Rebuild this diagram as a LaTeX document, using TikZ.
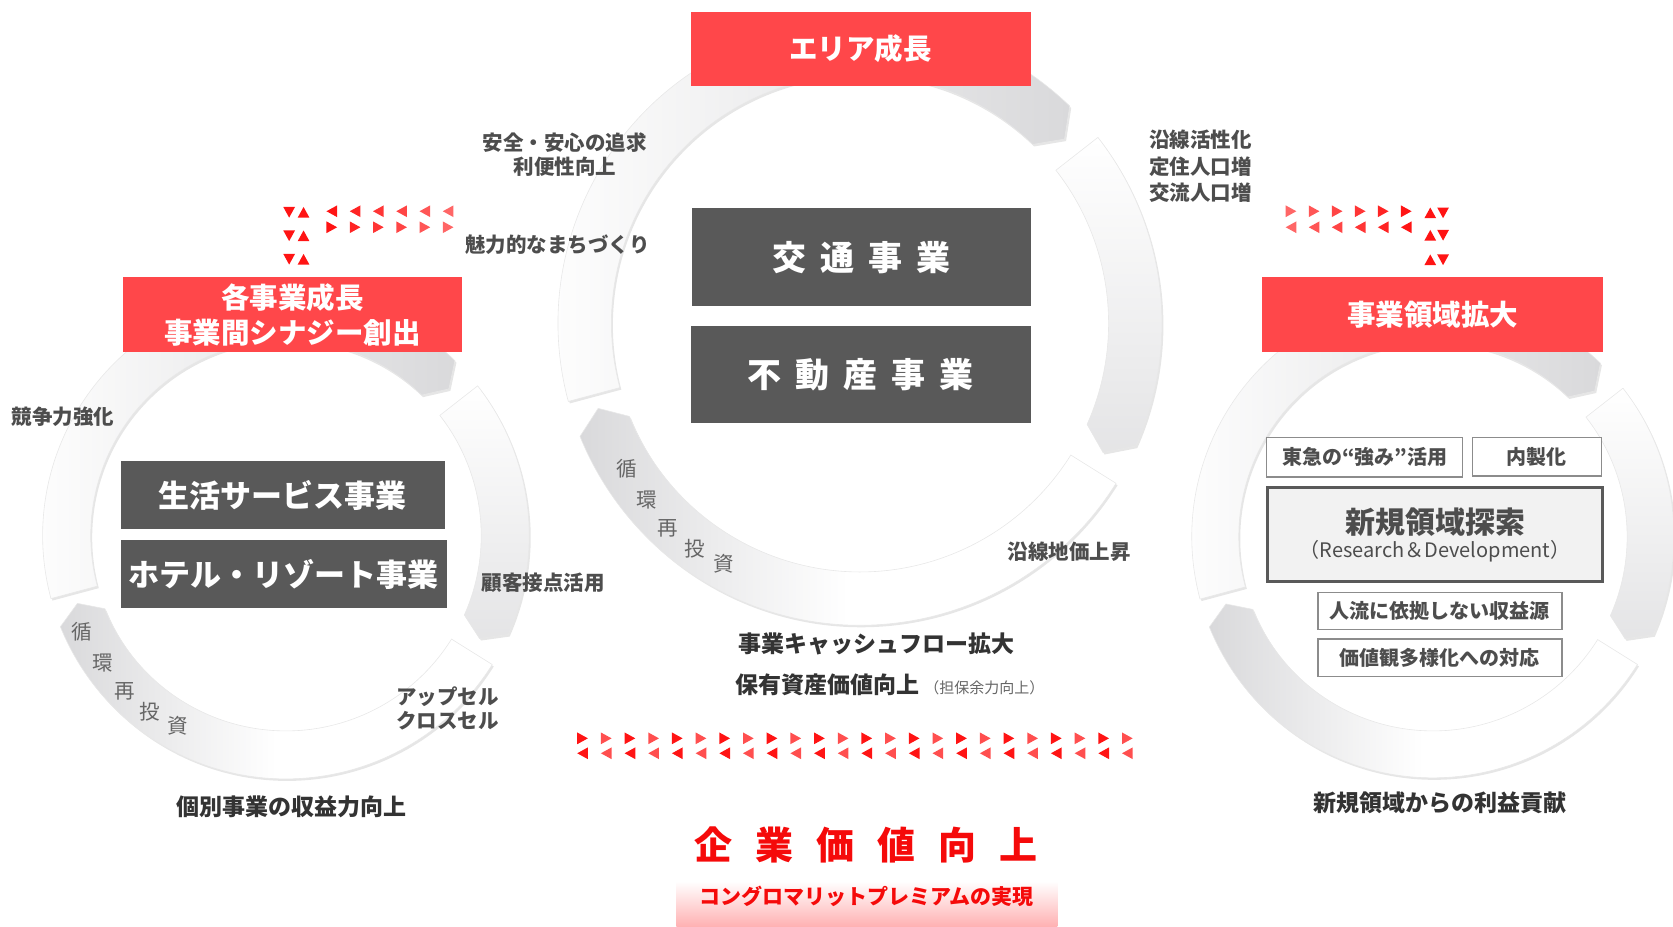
\documentclass[tikz,border=0pt]{standalone}
\usepackage{fontspec}
\setmainfont{Noto Sans CJK JP}
\usetikzlibrary{calc,shadows}
\definecolor{boxred}{HTML}{FF474A}
\definecolor{boxdark}{HTML}{595959}
\definecolor{txtgrey}{HTML}{4D4D4D}
\definecolor{txtdark}{HTML}{333333}
\definecolor{segdark}{HTML}{D9D9DB}
\definecolor{trired}{HTML}{FF1414}
\definecolor{bigred}{HTML}{F50A0A}
\tikzset{
  seg/.style={draw=black!9, line width=0.6pt,
    drop shadow={shadow xshift=1.5pt, shadow yshift=-2pt, opacity=0.2}},
  redbox/.style={fill=boxred, text=white, inner sep=0pt, align=center,
    font=\bfseries\fontsize{28.5}{35}\selectfont},
  darkbox/.style={fill=boxdark, text=white, inner sep=0pt},
  wbox/.style={draw=black!45, line width=1.3pt, fill=white, text=txtgrey,
    inner sep=0pt, font=\bfseries\fontsize{20}{24}\selectfont},
  lbl/.style={text=txtgrey, inner sep=0pt, align=center,
    font=\bfseries\fontsize{20.5}{24.5}\selectfont},
  result/.style={text=txtdark, inner sep=0pt, font=\bfseries\fontsize{23}{28}\selectfont},
  cyc/.style={text=black!60, inner sep=0pt, font=\fontsize{20.5}{24}\selectfont},
}
\newcommand\ringpart[7]{%
  \path[seg,#7] ($(#1)+(#4:#2)$) arc[start angle=#4, end angle=#5, radius=#2]
    -- ($(#1)+(#6:{(#2+#3)/2})$) -- ($(#1)+(#5:#3)$)
    arc[start angle=#5, end angle=#4, radius=#3] -- cycle;}
\newcommand\ringset[3]{%
  \ringpart{#1}{#2}{#3}{195}{46}{42}{left color=white, right color=segdark}
  \ringpart{#1}{#2}{#3}{38}{-24}{-28}{top color=white, bottom color=segdark!70!white}
  \ringpart{#1}{#2}{#3}{-32}{-158}{-162}{left color=segdark, right color=white, middle color=white}}

\begin{document}
\begin{tikzpicture}[x=1.067pt, y=1.067pt]
    \useasboundingbox (0,0) rectangle (1568,868);
    \coordinate (cc) at (806,565);
    \coordinate (lc) at (268,366);
    \coordinate (rc) at (1343,365);
    \ringset{cc}{283}{233}
    \ringset{lc}{228}{183}
    \ringset{rc}{226}{182}

    \node[redbox, minimum width=340pt, minimum height=74.7pt] (area) at (806.5,822) {エリア成長};
    \node[darkbox, minimum width=339pt, minimum height=98pt, font=\bfseries\fontsize{34}{40}\selectfont] (kotsu) at (807,627)
        {交\hspace{14pt}通\hspace{14pt}事\hspace{14pt}業};
    \node[darkbox, minimum width=340pt, minimum height=98pt, font=\bfseries\fontsize{34}{40}\selectfont] (fudosan) at (806.5,517)
        {不\hspace{14pt}動\hspace{14pt}産\hspace{14pt}事\hspace{14pt}業};

    \node[redbox, minimum width=339pt, minimum height=74.7pt] (kaku) at (274,573) {各事業成長\\事業間シナジー創出};
    \node[darkbox, minimum width=324pt, minimum height=68pt, font=\bfseries\fontsize{31}{36}\selectfont] (seikatsu) at (265,404) {生活サービス事業};
    \node[darkbox, minimum width=326.5pt, minimum height=68pt, font=\bfseries\fontsize{31}{36}\selectfont] (hotel) at (266,330) {ホテル・リゾート事業};

    \node[redbox, minimum width=341pt, minimum height=74.7pt] (ryoiki) at (1343,573) {事業領域拡大};
    \node[wbox, minimum width=196pt, minimum height=39.5pt] (tsuyomi) at (1279,439.5) {東急の“強み”活用};
    \node[wbox, minimum width=129pt, minimum height=38.4pt] (naisei) at (1440.5,440) {内製化};
    \node[wbox, draw=boxdark, line width=3pt, fill=black!5, minimum width=335pt, minimum height=94pt, align=center] (shinki) at (1345,367)
        {{\fontsize{30}{33.5}\selectfont 新規領域探索}\\{\mdseries\fontsize{20}{24}\selectfont （Research＆Development）}};
    \node[wbox, minimum width=244pt, minimum height=37.3pt] (jinryu) at (1349.5,295.5) {人流に依拠しない収益源};
    \node[wbox, minimum width=244pt, minimum height=37.3pt] (kachikan) at (1349.5,251.5) {価値観多様化への対応};

    \node[lbl] (anzen) at (529.5,723) {安全・安心の追求\\利便性向上};
    \node[lbl] (miryoku) at (522.5,638.4) {魅力的なまちづくり};
    \node[lbl, align=left, font=\bfseries\fontsize{20.5}{26.5}\selectfont] (ensen) at (1125,712) {沿線活性化\\定住人口増\\交流人口増};
    \node[lbl] (chika) at (1002,351) {沿線地価上昇};
    \node[lbl] (kyoso) at (59,477) {競争力強化};
    \node[lbl] (kokyaku) at (509,321.4) {顧客接点活用};
    \node[lbl, font=\bfseries\fontsize{20.5}{23.5}\selectfont] (upsell) at (419.5,204) {アップセル\\クロスセル};

    \foreach \ch/\x/\y [count=\n] in {循/587/429, 環/606.5/399.4, 再/626/373, 投/651/354, 資/678/340}
        \node[cyc] (cyc\n) at (\x,\y) {\ch};
    \foreach \ch/\x/\y [count=\n] in {循/76.6/276, 環/96/246.5, 再/117/220, 投/140/201, 資/167/187.5}
        \node[cyc] (lcyc\n) at (\x,\y) {\ch};

    \node[result] (cash) at (821.5,264.5) {事業キャッシュフロー拡大};
    \node[result, anchor=west] (hoyu) at (689,226)
        {保有資産価値向上\hspace{5pt}{\mdseries\color{black!60}\fontsize{15}{18}\selectfont （担保余力向上）}};
    \node[result] (kobetsu) at (273.5,112) {個別事業の収益力向上};
    \node[result] (rieki) at (1350,116) {新規領域からの利益貢献};

    \shade[top color=white, bottom color=boxred!42] (634,0) rectangle (991,42);
    \node[text=bigred, inner sep=0pt, font=\bfseries\fontsize{38}{42}\selectfont] (kigyo) at (812,76)
        {企\hspace{23pt}業\hspace{23pt}価\hspace{23pt}値\hspace{23pt}向\hspace{23pt}上};
    \node[text=bigred, inner sep=0pt, font=\bfseries\fontsize{21}{25}\selectfont] (conglo) at (812,28) {コングロマリットプレミアムの実現};

    \foreach \y in {669,647,625}{
        \fill[trired] (265.5,\y+5) -- (276.5,\y+5) -- (271,\y-5) -- cycle;
        \fill[trired] (279,\y-5) -- (290,\y-5) -- (284.5,\y+5) -- cycle;
    }
    \foreach \i [evaluate=\i as \x using 311+21.8*\i, evaluate=\i as \c using int(100-7*\i)] in {0,...,5}{
        \fill[trired!\c] (\x+5,675.5) -- (\x-5,670) -- (\x+5,664.5) -- cycle;
        \fill[trired!\c] (\x-5,660.5) -- (\x+5,655) -- (\x-5,649.5) -- cycle;
    }
    \foreach \y in {668.5,647.5,624.5}{
        \fill[trired] (1335,\y-5) -- (1346,\y-5) -- (1340.5,\y+5) -- cycle;
        \fill[trired] (1347,\y+5) -- (1358,\y+5) -- (1352.5,\y-5) -- cycle;
    }
    \foreach \i [evaluate=\i as \x using 1210+21.6*\i, evaluate=\i as \c using int(65+7*\i)] in {0,...,5}{
        \fill[trired!\c] (\x-5,675.5) -- (\x+5,670) -- (\x-5,664.5) -- cycle;
        \fill[trired!\c] (\x+5,660.5) -- (\x-5,655) -- (\x+5,649.5) -- cycle;
    }
    \foreach \i [evaluate=\i as \x using 546+22.2*\i, evaluate=\i as \c using {int(100-25*mod(\i,2))}] in {0,...,23}{
        \fill[trired!\c] (\x-5,181.5) -- (\x+5,176) -- (\x-5,170.5) -- cycle;
        \fill[trired!\c] (\x+5,167.5) -- (\x-5,162) -- (\x+5,156.5) -- cycle;
    }
\end{tikzpicture}
\end{document}
